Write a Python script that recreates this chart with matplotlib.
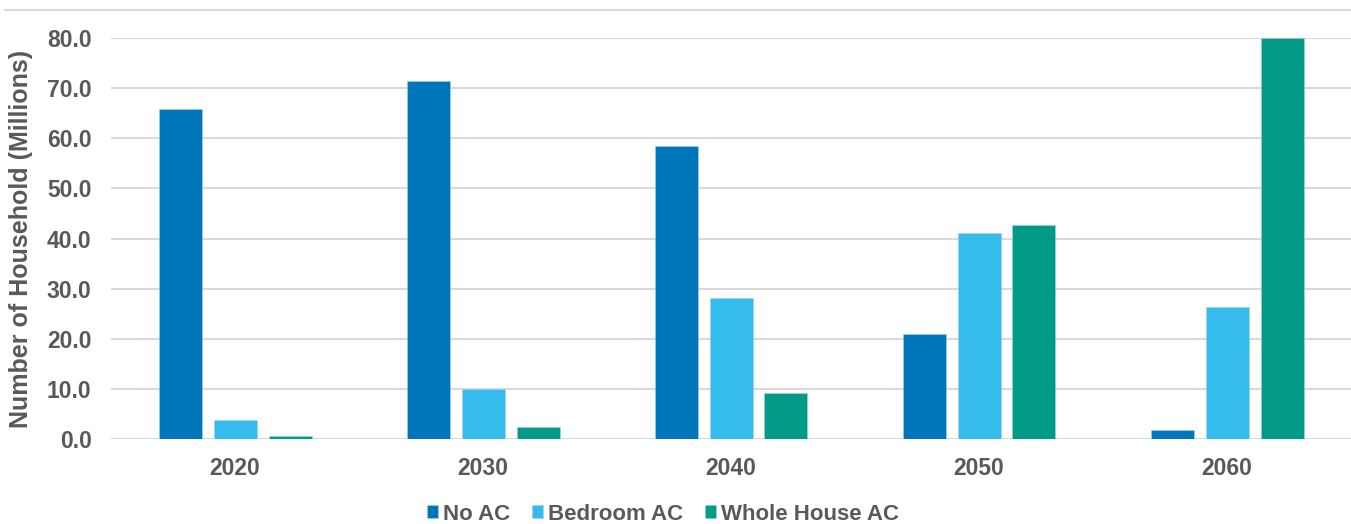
import matplotlib
matplotlib.use("Agg")
import matplotlib.pyplot as plt
import numpy as np
from matplotlib.lines import Line2D

years = ["2020", "2030", "2040", "2050", "2060"]
series_names = ["No AC", "Bedroom AC", "Whole House AC"]
no_ac = [65.8, 71.4, 58.5, 20.9, 1.8]
bedroom_ac = [3.8, 10.0, 28.1, 41.1, 26.3]
whole_house_ac = [0.5, 2.4, 9.2, 42.7, 80.0]
y_ticks = [0, 10, 20, 30, 40, 50, 60, 70, 80]

colors = ["#0076BA", "#35BCEC", "#009A86"]
text_color = "#595959"

plt.rcParams['font.family'] = ['Liberation Sans', 'DejaVu Sans']
plt.rcParams['font.weight'] = 'bold'

fig = plt.figure(figsize=(13.51, 5.24), dpi=100)
ax = fig.add_axes([111/1351, 85/524, 1240/1351, 401/524])

x = np.arange(len(years))
step = 55/248
width = 43/248
for i, (vals, name, c) in enumerate(zip([no_ac, bedroom_ac, whole_house_ac], series_names, colors)):
    ax.bar(x + (i - 1) * step, vals, width=width, color=c, label=name,
           edgecolor="#9fd3ea", linewidth=0.4, zorder=3)

ax.set_xlim(-0.5, len(years) - 0.5)
ax.set_ylim(0, 80)
ax.set_yticks(y_ticks)
ax.set_yticklabels([f"{v:.1f}" for v in y_ticks])
ax.set_xticks(x)
ax.set_xticklabels(years)
ax.tick_params(axis='both', length=0, labelsize=16.5, colors=text_color)
ax.tick_params(axis='y', pad=14)
ax.tick_params(axis='x', pad=13)
for lab in ax.get_xticklabels() + ax.get_yticklabels():
    lab.set_fontweight('bold')

ax.grid(axis='y', color="#d9d9d9", linewidth=1.5, zorder=0)
for s in ax.spines.values():
    s.set_visible(False)

ax.set_ylabel("Number of Household (Millions)", fontsize=18, fontweight='bold', color=text_color)
ax.yaxis.set_label_coords(-78/1240, 0.5)

# top border line
fig.add_artist(Line2D([5/1351, 1.0], [1 - 10/524, 1 - 10/524], color="#d9d9d9", linewidth=1.5))

leg = fig.legend(loc='center', bbox_to_anchor=(663/1351, 1 - 514/524), ncol=3, frameon=False,
                 fontsize=16, handlelength=0.5, handleheight=0.5, handletextpad=0.2,
                 columnspacing=1.0, borderaxespad=0)
for t in leg.get_texts():
    t.set_color(text_color)
    t.set_fontweight('bold')

fig.savefig("out.png", dpi=100)
